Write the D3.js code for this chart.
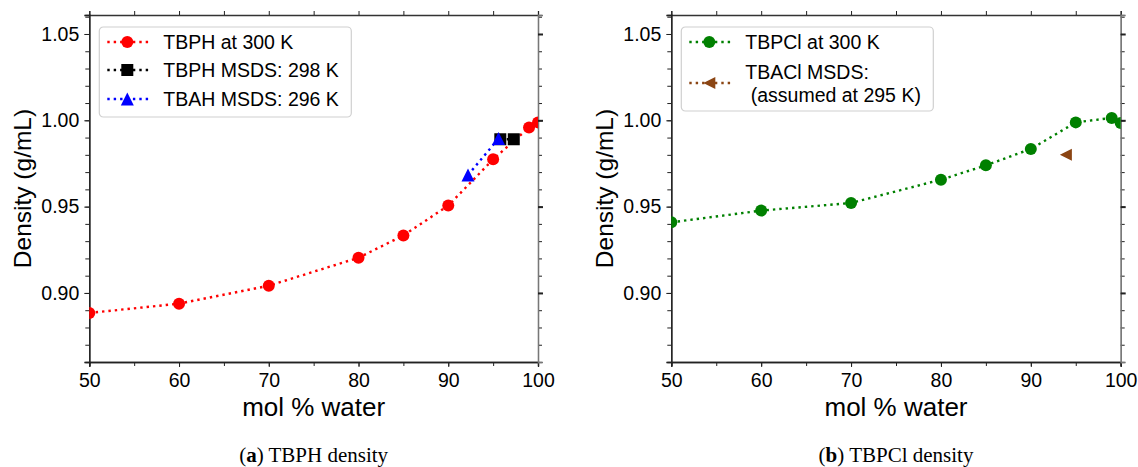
<!DOCTYPE html>
<html>
<head>
<meta charset="utf-8">
<script src="https://cdn.jsdelivr.net/npm/d3@7"></script>
<style>
  body { margin: 0; background: #fff; }
  svg { display: block; }
</style>
</head>
<body>
<script>
// mol % water values and densities (g/mL)
const tbphX = [50, 60, 70, 80, 85, 90, 95, 99, 100]
const tbphY = [0.8884, 0.8938, 0.9042, 0.9204, 0.9333, 0.9506, 0.9774, 0.9958, 0.9988]
const tbphMsdsX = [95.8, 97.3]
const tbphMsdsY = [0.989, 0.989]
const tbahMsdsX = [92.2, 95.6]
const tbahMsdsY = [0.9683, 0.9894]

const tbpclX = [50, 60, 70, 80, 85, 90, 95, 99, 100]
const tbpclY = [0.9409, 0.9477, 0.9521, 0.9656, 0.9739, 0.9834, 0.9988, 1.0014, 0.9985]
const tbaclMsdsX = [93.9]
const tbaclMsdsY = [0.980]

const xTicks = [50, 60, 70, 80, 90, 100]
const yTicks = [0.90, 0.95, 1.00, 1.05]

const WIDTH = 1138
const HEIGHT = 467
const TOP = 15
const BOTTOM = 362
const Y_DOMAIN = [0.86, 1.061]
const X_DOMAIN = [50, 100]
const SANS = 'Liberation Sans, Arial, sans-serif'

const svg = d3.select('body').append('svg').attr('width', WIDTH).attr('height', HEIGHT)

const yScale = d3.scaleLinear().domain(Y_DOMAIN).range([BOTTOM, TOP])

const zip = (xs, ys) => xs.map((x, i) => ({ x: x, y: ys[i] }))

// matplotlib-like marker paths
const markerPath = {
  circle: d3.symbol(d3.symbolCircle, Math.PI * 6 * 6)(),
  square: 'M-6,-6H6V6H-6Z',
  triUp: 'M0,-6.5L6.5,6.5L-6.5,6.5Z',
  triLeft: 'M-6,0L6,-6L6,6Z'
}

function drawPanel(opts) {
  const xScale = d3.scaleLinear().domain(X_DOMAIN).range([opts.left, opts.right])
  const g = svg.append('g')

  const clipId = 'clip-' + opts.id
  svg.append('clipPath').attr('id', clipId)
    .append('rect')
    .attr('x', opts.left).attr('y', TOP)
    .attr('width', opts.right - opts.left).attr('height', BOTTOM - TOP)

  // axes: major + minor ticks, outward on all four sides
  const minorX = d3.range(50, 101, 5)
  const minorY = d3.range(0.86, 1.0605, 0.01)

  const fmtY = d3.format('.2f')
  const axes = [
    { ax: d3.axisBottom(xScale).tickValues(minorX).tickFormat('').tickSize(4), t: `translate(0,${BOTTOM})`, c: '#222' },
    { ax: d3.axisBottom(xScale).tickValues(xTicks).tickFormat(d3.format('d')).tickSize(5).tickPadding(6), t: `translate(0,${BOTTOM})`, c: '#222' },
    { ax: d3.axisTop(xScale).tickValues(minorX).tickFormat('').tickSize(4), t: `translate(0,${TOP})`, c: '#333' },
    { ax: d3.axisLeft(yScale).tickValues(minorY).tickFormat('').tickSize(4), t: `translate(${opts.left},0)`, c: '#222' },
    { ax: d3.axisLeft(yScale).tickValues(yTicks).tickFormat(fmtY).tickSize(5).tickPadding(5), t: `translate(${opts.left},0)`, c: '#222' },
    { ax: d3.axisRight(yScale).tickValues(minorY).tickFormat('').tickSize(4), t: `translate(${opts.right},0)`, c: '#777' },
    { ax: d3.axisRight(yScale).tickValues(yTicks).tickFormat('').tickSize(5), t: `translate(${opts.right},0)`, c: '#777', bold: true }
  ]
  axes.forEach(a => {
    const ag = g.append('g').attr('transform', a.t).call(a.ax)
    ag.select('.domain').attr('stroke', a.c).attr('stroke-width', 1.3)
    ag.selectAll('.tick line').attr('stroke', '#222').attr('stroke-width', a.bold ? 2 : 1)
    ag.selectAll('text')
      .attr('fill', '#000')
      .attr('font-family', SANS)
      .attr('font-size', 19.5)
  })

  // axis titles
  g.append('text')
    .attr('x', (opts.left + opts.right) / 2).attr('y', 407)
    .attr('text-anchor', 'middle').attr('dominant-baseline', 'central')
    .attr('font-family', SANS).attr('font-size', 26)
    .text('mol % water')
  g.append('text')
    .attr('transform', `translate(${opts.left - 67},${(TOP + BOTTOM) / 2}) rotate(-90)`)
    .attr('text-anchor', 'middle').attr('dominant-baseline', 'central')
    .attr('font-family', SANS).attr('font-size', 24.5)
    .text('Density (g/mL)')

  // series
  const plot = g.append('g').attr('clip-path', `url(#${clipId})`)
  const line = d3.line().x(d => xScale(d.x)).y(d => yScale(d.y))
  opts.series.forEach(s => {
    const pts = zip(s.x, s.y)
    if (pts.length > 1) {
      plot.append('path').datum(pts)
        .attr('d', line)
        .attr('fill', 'none')
        .attr('stroke', s.color)
        .attr('stroke-width', 2.4)
        .attr('stroke-dasharray', '2.4,4')
    }
    plot.selectAll(null).data(pts).enter().append('path')
      .attr('d', markerPath[s.marker])
      .attr('transform', d => `translate(${xScale(d.x)},${yScale(d.y)})`)
      .attr('fill', s.color)
  })

  // legend
  const lg = g.append('g').attr('transform', `translate(${opts.left + 10},${TOP + 12})`)
  lg.append('rect')
    .attr('width', 252).attr('height', opts.legendHeight)
    .attr('rx', 4)
    .attr('fill', 'rgba(255,255,255,0.85)')
    .attr('stroke', '#d0d0d0').attr('stroke-width', 1.2)
  opts.series.forEach((s, i) => {
    const cy = opts.legendRows[i]
    lg.append('line')
      .attr('x1', 8).attr('x2', 49).attr('y1', cy).attr('y2', cy)
      .attr('stroke', s.color).attr('stroke-width', 2.4)
      .attr('stroke-dasharray', '2.4,4')
    lg.append('path')
      .attr('d', markerPath[s.marker])
      .attr('transform', `translate(28,${cy})`)
      .attr('fill', s.color)
    const lines = s.label.split('\n')
    lines.forEach((t, j) => {
      lg.append('text')
        .attr('x', 64)
        .attr('y', cy + (j - (lines.length - 1) / 2) * 23)
        .attr('dominant-baseline', 'central')
        .attr('font-family', SANS)
        .attr('font-size', 19.5)
        .attr('xml:space', 'preserve')
        .text(t)
    })
  })

  // caption
  const cap = svg.append('text')
    .attr('x', (opts.left + opts.right) / 2).attr('y', 455)
    .attr('text-anchor', 'middle').attr('dominant-baseline', 'central')
    .attr('font-family', 'Liberation Serif, Times New Roman, serif').attr('font-size', 21)
  cap.append('tspan').text('(')
  cap.append('tspan').attr('font-weight', 'bold').text(opts.tag)
  cap.append('tspan').text(') ' + opts.caption)
}

drawPanel({
  id: 'a', left: 89.3, right: 538,
  tag: 'a', caption: 'TBPH density',
  legendHeight: 90, legendRows: [15, 43, 72],
  series: [
    { x: tbphX, y: tbphY, color: '#ff0000', marker: 'circle', label: 'TBPH at 300 K' },
    { x: tbphMsdsX, y: tbphMsdsY, color: '#000000', marker: 'square', label: 'TBPH MSDS: 298 K' },
    { x: tbahMsdsX, y: tbahMsdsY, color: '#0000ff', marker: 'triUp', label: 'TBAH MSDS: 296 K' }
  ]
})

drawPanel({
  id: 'b', left: 671.3, right: 1120.7,
  tag: 'b', caption: 'TBPCl density',
  legendHeight: 84, legendRows: [15, 56],
  series: [
    { x: tbpclX, y: tbpclY, color: '#008000', marker: 'circle', label: 'TBPCl at 300 K' },
    { x: tbaclMsdsX, y: tbaclMsdsY, color: '#8b4513', marker: 'triLeft', label: 'TBACl MSDS:\n (assumed at 295 K)' }
  ]
})
</script>
</body>
</html>
